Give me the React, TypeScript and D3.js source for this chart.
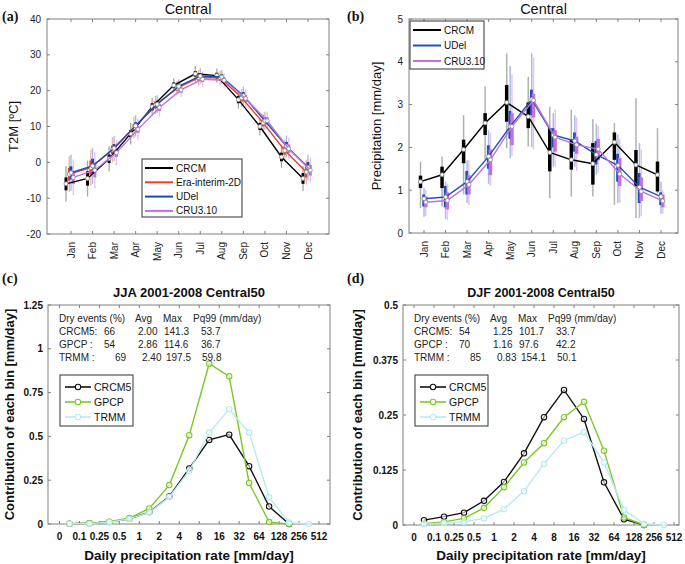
import React from 'react';
import * as d3 from 'd3';

// ---------- DATA ----------
const months = ['Jan', 'Feb', 'Mar', 'Apr', 'May', 'Jun', 'Jul', 'Aug', 'Sep', 'Oct', 'Nov', 'Dec'];

// (a) T2M [°C]
const t2mCRCM = [-6.0, -4.5, 1.0, 8.0, 15.5, 21.5, 24.7, 24.2, 17.5, 10.0, 1.5, -4.5];
const t2mEra = [-3.3, -1.5, 3.5, 9.7, 16.0, 20.7, 23.6, 23.6, 18.0, 11.0, 3.3, -2.7];
const t2mUDel = [-2.9, -1.0, 3.9, 10.2, 16.2, 21.2, 24.1, 23.8, 18.6, 11.6, 4.5, -1.4];
const t2mCRU = [-4.2, -2.2, 2.7, 9.2, 15.3, 20.2, 23.2, 22.9, 17.8, 11.6, 3.8, -2.2];
const t2mWhiskerHalf = [5.0, 5.0, 3.5, 3.0, 2.5, 2.0, 2.2, 2.0, 2.5, 2.5, 3.0, 3.5];
const t2mBoxHalf = [1.8, 2.0, 1.2, 1.0, 1.0, 0.8, 0.8, 0.8, 1.0, 1.0, 1.2, 1.5];
const t2mTicks = [-20, -10, 0, 10, 20, 30, 40];

// (b) Precipitation [mm/day]
const prCRCM = [1.20, 1.36, 1.95, 2.57, 3.05, 2.72, 1.88, 1.71, 1.62, 2.12, 1.59, 1.36];
const prCRCMWhLo = [0.58, 0.62, 0.9, 1.71, 1.98, 2.02, 0.82, 0.85, 0.85, 0.66, 0.35, 0.93];
const prCRCMWhHi = [1.67, 1.79, 2.75, 3.42, 4.2, 3.65, 2.95, 2.88, 2.66, 2.57, 3.15, 2.45];
const prCRCMBoxLo = [1.05, 1.05, 1.63, 2.29, 2.6, 2.45, 1.44, 1.48, 1.13, 1.71, 1.09, 0.97];
const prCRCMBoxHi = [1.34, 1.55, 2.18, 2.8, 3.46, 3.05, 2.45, 2.18, 2.1, 2.35, 1.94, 1.67];

const prUDel = [0.8, 0.84, 1.2, 1.79, 2.49, 3.12, 2.29, 2.15, 1.83, 1.58, 1.07, 0.85];
const prUDelWhLo = [0.38, 0.33, 0.7, 1.15, 1.75, 2.0, 1.55, 1.55, 1.35, 0.7, 0.35, 0.45];
const prUDelWhHi = [1.05, 1.2, 1.7, 2.4, 3.9, 4.2, 2.8, 2.75, 2.55, 2.3, 2.1, 1.2];
const prUDelBoxLo = [0.62, 0.6, 0.9, 1.5, 2.2, 2.75, 2.0, 1.9, 1.6, 1.2, 0.7, 0.65];
const prUDelBoxHi = [0.9, 1.1, 1.45, 2.05, 2.85, 3.35, 2.45, 2.35, 2.15, 1.85, 1.4, 0.95];

const prCRU = [0.72, 0.76, 1.13, 1.71, 2.49, 3.1, 2.24, 2.06, 1.96, 1.38, 0.97, 0.75];
const prCRUWhLo = [0.4, 0.3, 0.65, 1.1, 1.8, 1.95, 1.55, 1.45, 1.4, 0.7, 0.4, 0.45];
const prCRUWhHi = [1.0, 1.15, 1.7, 2.35, 3.7, 4.1, 2.9, 2.7, 2.5, 2.2, 1.95, 1.0];
const prCRUBoxLo = [0.6, 0.55, 0.9, 1.35, 2.05, 2.7, 1.9, 1.85, 1.7, 1.1, 0.75, 0.6];
const prCRUBoxHi = [0.85, 0.95, 1.35, 1.95, 2.8, 3.25, 2.4, 2.25, 2.2, 1.75, 1.3, 0.9];
const prTicks = [0, 1, 2, 3, 4, 5];

// (c)/(d) distributions
const binLabels = ['0', '0.1', '0.25', '0.5', '1', '2', '4', '8', '16', '32', '64', '128', '256', '512'];
const jjaCRCM5 = [0.002, 0.004, 0.011, 0.03, 0.068, 0.157, 0.317, 0.48, 0.51, 0.33, 0.1, 0.0];
const jjaGPCP = [0.002, 0.004, 0.013, 0.034, 0.089, 0.222, 0.507, 0.915, 0.843, 0.234, 0.011, 0.0];
const jjaTRMM = [0.002, 0.002, 0.01, 0.029, 0.066, 0.154, 0.304, 0.522, 0.655, 0.522, 0.152, 0.008, 0.0];
const djfCRCM5 = [0.011, 0.019, 0.028, 0.055, 0.098, 0.163, 0.245, 0.307, 0.241, 0.097, 0.013, 0.0];
const djfGPCP = [0.003, 0.007, 0.015, 0.039, 0.086, 0.142, 0.186, 0.245, 0.28, 0.169, 0.017, 0.0];
const djfTRMM = [0.002, 0.004, 0.007, 0.015, 0.036, 0.077, 0.139, 0.192, 0.211, 0.142, 0.034, 0.003, 0.0];
const jjaTicks = [0, 0.25, 0.5, 0.75, 1, 1.25];
const jjaTickLabels = ['0', '0.25', '0.5', '0.75', '1', '1.25'];
const djfTicks = [0, 0.125, 0.25, 0.375, 0.5];
const djfTickLabels = ['0', '0.125', '0.25', '0.375', '0.5'];

const tableHeader = ['Dry events (%)', 'Avg', 'Max', 'Pq99 (mm/day)'];
const jjaTable = [
  ['CRCM5:', '66', '2.00', '141.3', '53.7'],
  ['GPCP :', '54', '2.86', '114.6', '36.7'],
  ['TRMM :', '69', '2.40', '197.5', '59.8'],
];
const djfTable = [
  ['CRCM5:', '54', '1.25', '101.7', '33.7'],
  ['GPCP :', '70', '1.16', '97.6', '42.2'],
  ['TRMM :', '85', '0.83', '154.1', '50.1'],
];

// ---------- STYLE ----------
const FONT = "'Liberation Sans', Arial, Helvetica, sans-serif";
const SERIF = "'Liberation Serif', 'Times New Roman', serif";
const AXIS = '#808080';

type MonthSeries = {
  name: string; values: number[]; color: string; light: string; offset: number;
  whLo: number[]; whHi: number[]; bxLo: number[]; bxHi: number[];
};

function MonthPanel(props: {
  box: [number, number, number, number]; monthRange: [number, number];
  yDomain: [number, number]; ticks: number[]; series: MonthSeries[];
  title: string; ylabel: string; ylabelX: number; tag: string; tagX: number;
  legend: { x: number; y: number; w: number; h: number; dy: number };
  boxW: number; whW: number;
}) {
  const [x0, y0, x1, y1] = props.box;
  const y = d3.scaleLinear().domain(props.yDomain).range([y1, y0]);
  const xm = d3.scaleLinear().domain([0, 11]).range(props.monthRange);
  const cx = (x0 + x1) / 2;
  const cy = (y0 + y1) / 2;
  const lg = props.legend;
  return (
    <g>
      <rect x={x0} y={y0} width={x1 - x0} height={y1 - y0} fill="white" stroke={AXIS} strokeWidth={1} />
      {props.ticks.map((t) => (
        <g key={'yt' + t}>
          <line x1={x0} x2={x0 + 3} y1={y(t)} y2={y(t)} stroke={AXIS} />
          <line x1={x1} x2={x1 - 3} y1={y(t)} y2={y(t)} stroke={AXIS} />
          <text x={x0 - 6} y={y(t)} dy="0.35em" textAnchor="end" fontSize={10} fontFamily={FONT} fill="#222">{t}</text>
        </g>
      ))}
      {months.map((m, i) => (
        <g key={'xt' + m}>
          <line x1={xm(i)} x2={xm(i)} y1={y1} y2={y1 - 3} stroke={AXIS} />
          <line x1={xm(i)} x2={xm(i)} y1={y0} y2={y0 + 3} stroke={AXIS} />
          <text transform={`translate(${xm(i) + 3.5},${y1 + 8}) rotate(-90)`} textAnchor="end" fontSize={10} fontFamily={FONT} fill="#222">{m}</text>
        </g>
      ))}
      {props.series.map((s) => (
        <g key={'bars' + s.name}>
          {s.values.map((v, i) => (
            <line key={'w' + i} x1={xm(i) + s.offset} x2={xm(i) + s.offset} y1={y(s.whLo[i])} y2={y(s.whHi[i])} stroke={s.light} strokeWidth={props.whW} />
          ))}
          {s.values.map((v, i) => (
            <line key={'b' + i} x1={xm(i) + s.offset} x2={xm(i) + s.offset} y1={y(s.bxLo[i])} y2={y(s.bxHi[i])} stroke={s.color} strokeWidth={props.boxW} />
          ))}
        </g>
      ))}
      {props.series.map((s) => {
        const line = d3.line<number>().x((v, i) => xm(i) + s.offset).y((v) => y(v));
        return (
          <g key={'ln' + s.name}>
            <path d={line(s.values) || ''} fill="none" stroke={s.color} strokeWidth={1.4} />
            {s.values.map((v, i) => (
              <circle key={i} cx={xm(i) + s.offset} cy={y(v)} r={2} fill="white" stroke="#888" strokeWidth={0.8} />
            ))}
          </g>
        );
      })}
      <rect x={lg.x} y={lg.y} width={lg.w} height={lg.h} fill="white" stroke="#333" strokeWidth={1} />
      {props.series.map((s, i) => (
        <g key={'lg' + s.name}>
          <line x1={lg.x + 3} x2={lg.x + 31} y1={lg.y + 9 + i * lg.dy} y2={lg.y + 9 + i * lg.dy} stroke={s.color} strokeWidth={2} />
          <text x={lg.x + 34} y={lg.y + 9 + i * lg.dy} dy="0.35em" fontSize={10} fontFamily={FONT} fill="#111">{s.name}</text>
        </g>
      ))}
      <text x={cx} y={14} textAnchor="middle" fontSize={14.5} fontFamily={FONT} fill="#111">{props.title}</text>
      <text transform={`translate(${props.ylabelX},${cy}) rotate(-90)`} textAnchor="middle" fontSize={13} fontFamily={FONT} fill="#111">{props.ylabel}</text>
      <text x={props.tagX} y={21} fontSize={14} fontWeight="bold" fontFamily={SERIF} fill="#111">{props.tag}</text>
    </g>
  );
}

type DistSeries = { name: string; values: number[]; color: string };

function DistPanel(props: {
  box: [number, number, number, number]; edgeRange: [number, number];
  yMax: number; ticks: number[]; tickLabels: string[]; series: DistSeries[];
  title: string; titleSize: number; tag: string; tagX: number; ylabelX: number;
  table: string[][];
}) {
  const [x0, y0, x1, y1] = props.box;
  const y = d3.scaleLinear().domain([0, props.yMax]).range([y1, y0]);
  const xe = d3.scaleLinear().domain([0, 13]).range(props.edgeRange);
  const cx = (x0 + x1) / 2;
  const cy = (y0 + y1) / 2;
  const colX = [11, 56, 90, 116, 153];
  const headX = [11, 87, 115, 145];
  const trmmShift = [0, 11, 4, 2, 1];
  const lgX = x0 + 12, lgY = 375;
  return (
    <g>
      <rect x={x0} y={y0} width={x1 - x0} height={y1 - y0} fill="white" stroke={AXIS} strokeWidth={1} />
      {props.ticks.map((t, i) => (
        <g key={'yt' + t}>
          <line x1={x0} x2={x0 + 3} y1={y(t)} y2={y(t)} stroke={AXIS} />
          <line x1={x1} x2={x1 - 3} y1={y(t)} y2={y(t)} stroke={AXIS} />
          <text x={x0 - 5} y={y(t)} dy="0.35em" textAnchor="end" fontSize={10} fontWeight="bold" fontFamily={FONT} fill="#111">{props.tickLabels[i]}</text>
        </g>
      ))}
      {binLabels.map((b, i) => (
        <g key={'xt' + b}>
          <line x1={xe(i)} x2={xe(i)} y1={y1} y2={y1 - 3} stroke={AXIS} />
          <line x1={xe(i)} x2={xe(i)} y1={y0} y2={y0 + 3} stroke={AXIS} />
          <text x={xe(i)} y={y1 + 16} textAnchor="middle" fontSize={10} fontWeight="bold" fontFamily={FONT} fill="#111">{b}</text>
        </g>
      ))}
      {props.series.map((s) => {
        const line = d3.line<number>().x((v, i) => xe(i + 0.5)).y((v) => y(v));
        return (
          <g key={s.name}>
            <path d={line(s.values) || ''} fill="none" stroke={s.color} strokeWidth={1.4} />
            {s.values.map((v, i) => (
              <circle key={i} cx={xe(i + 0.5)} cy={y(v)} r={2.7} fill="white" fillOpacity={0.6} stroke={s.color} strokeWidth={1.1} />
            ))}
          </g>
        );
      })}
      {tableHeader.map((h, j) => (
        <text key={'h' + j} x={x0 + headX[j]} y={322} fontSize={10} fontFamily={FONT} fill="#222">{h}</text>
      ))}
      {props.table.map((row, r) => row.map((c, j) => (
        <text key={r + '-' + j} x={x0 + colX[j] + (r === 2 ? trmmShift[j] : 0)} y={335 + r * 12.8} fontSize={10} fontFamily={FONT} fill="#222">{c}</text>
      )))}
      <rect x={lgX} y={lgY} width={73} height={51} fill="white" stroke="#333" strokeWidth={1} />
      {props.series.map((s, i) => (
        <g key={'lg' + s.name}>
          <line x1={lgX + 5} x2={lgX + 31} y1={lgY + 12 + i * 15} y2={lgY + 12 + i * 15} stroke={s.color} strokeWidth={1.6} />
          <circle cx={lgX + 18} cy={lgY + 12 + i * 15} r={2.7} fill="white" stroke={s.color} strokeWidth={1.1} />
          <text x={lgX + 34} y={lgY + 12 + i * 15} dy="0.35em" fontSize={10.5} fontFamily={FONT} fill="#111">{s.name}</text>
        </g>
      ))}
      <text x={cx} y={297} textAnchor="middle" fontSize={props.titleSize} fontWeight="bold" fontFamily={FONT} fill="#111">{props.title}</text>
      <text x={cx} y={560} textAnchor="middle" fontSize={13.5} fontWeight="bold" fontFamily={FONT} fill="#111">Daily precipitation rate [mm/day]</text>
      <text transform={`translate(${props.ylabelX},${cy}) rotate(-90)`} textAnchor="middle" fontSize={13} fontWeight="bold" fontFamily={FONT} fill="#111">Contribution of each bin [mm/day]</text>
      <text x={props.tagX} y={283} fontSize={14} fontWeight="bold" fontFamily={SERIF} fill="#111">{props.tag}</text>
    </g>
  );
}

function spread(values: number[], half: number[], sign: number) {
  return values.map((v, i) => v + sign * half[i]);
}

export default function App() {
  const mkA = (name: string, values: number[], color: string, light: string, offset: number): MonthSeries => ({
    name, values, color, light, offset,
    whLo: spread(values, t2mWhiskerHalf, -1), whHi: spread(values, t2mWhiskerHalf, 1),
    bxLo: spread(values, t2mBoxHalf, -1), bxHi: spread(values, t2mBoxHalf, 1),
  });
  const seriesA: MonthSeries[] = [
    mkA('CRCM', t2mCRCM, '#000000', '#a8a8a8', -5),
    mkA('Era-interim-2D', t2mEra, '#f0402a', '#f6b0a4', -1.7),
    mkA('UDel', t2mUDel, '#1f48b8', '#a6b8e6', 0),
    mkA('CRU3.10', t2mCRU, '#c070e0', '#e4c0f2', 2.3),
  ];
  const seriesB: MonthSeries[] = [
    { name: 'CRCM', values: prCRCM, color: '#000000', light: '#b0b0b0', offset: -3.5,
      whLo: prCRCMWhLo, whHi: prCRCMWhHi, bxLo: prCRCMBoxLo, bxHi: prCRCMBoxHi },
    { name: 'UDel', values: prUDel, color: '#2050c0', light: '#aabbe6', offset: 0,
      whLo: prUDelWhLo, whHi: prUDelWhHi, bxLo: prUDelBoxLo, bxHi: prUDelBoxHi },
    { name: 'CRU3.10', values: prCRU, color: '#c070e0', light: '#e6c4f2', offset: 1.8,
      whLo: prCRUWhLo, whHi: prCRUWhHi, bxLo: prCRUBoxLo, bxHi: prCRUBoxHi },
  ];
  const distColors = ['#111111', '#7cc828', '#b4ecf0'];
  const jja: DistSeries[] = [
    { name: 'CRCM5', values: jjaCRCM5, color: distColors[0] },
    { name: 'GPCP', values: jjaGPCP, color: distColors[1] },
    { name: 'TRMM', values: jjaTRMM, color: distColors[2] },
  ];
  const djf: DistSeries[] = [
    { name: 'CRCM5', values: djfCRCM5, color: distColors[0] },
    { name: 'GPCP', values: djfGPCP, color: distColors[1] },
    { name: 'TRMM', values: djfTRMM, color: distColors[2] },
  ];
  return (
    <svg width={685} height={564} style={{ position: 'absolute', left: 0, top: 0, background: 'white' }}>
      <rect width={685} height={564} fill="white" />
      <MonthPanel box={[47, 19, 329, 234]} monthRange={[71, 308]} yDomain={[-20, 40]} ticks={t2mTicks}
        series={seriesA} title="Central" ylabel="T2M [ºC]" ylabelX={18} tag="(a)" tagX={2}
        legend={{ x: 142, y: 159, w: 100, h: 58, dy: 14.3 }} boxW={3} whW={1.3} />
      <MonthPanel box={[409, 19, 678, 233]} monthRange={[424, 661]} yDomain={[0, 5]} ticks={prTicks}
        series={seriesB} title="Central" ylabel="Precipitation [mm/day]" ylabelX={381} tag="(b)" tagX={347}
        legend={{ x: 410, y: 21, w: 74, h: 48, dy: 15.5 }} boxW={3.5} whW={1.5} />
      <DistPanel box={[48, 305, 330, 524]} edgeRange={[59.5, 319]} yMax={1.25} ticks={jjaTicks} tickLabels={jjaTickLabels}
        series={jja} title="JJA 2001-2008 Central50" titleSize={13} tag="(c)" tagX={2} ylabelX={14} table={jjaTable} />
      <DistPanel box={[403, 305, 679, 525]} edgeRange={[414, 674]} yMax={0.5} ticks={djfTicks} tickLabels={djfTickLabels}
        series={djf} title="DJF 2001-2008 Central50" titleSize={12.5} tag="(d)" tagX={347} ylabelX={362} table={djfTable} />
    </svg>
  );
}
